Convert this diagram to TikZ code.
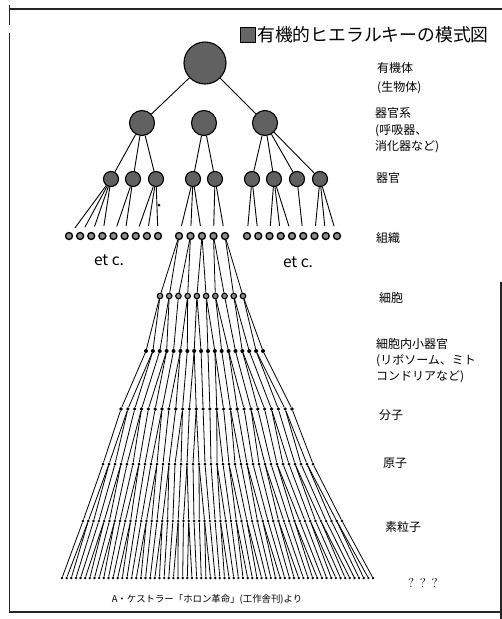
\documentclass[tikz,border=0pt]{standalone}
\usepackage{fontspec}
\newfontfamily\jp{Noto Sans CJK JP}
\newcommand\dotrow[6]{% name, n, xa, xb, y, style
  \pgfmathtruncatemacro\drm{#2-1}%
  \pgfmathsetmacro\drs{(#4-#3)/(#2-1)}%
  \foreach \i in {0,...,\drm}{%
    \pgfmathsetmacro\drx{#3+\drs*\i}%
    \node[#6] (#1\i) at (\drx,#5) {};
  }%
}
\newcommand\fanband[4]{% upper name, n upper, lower name, n lower
  \pgfmathtruncatemacro\fbm{#4-1}%
  \foreach \j in {0,...,\fbm}{%
    \pgfmathtruncatemacro\fbp{floor((\j+0.5)*#2/#4)}%
    \draw[fan] (#1\fbp) -- (#3\j);
  }%
}
\begin{document}
\begin{tikzpicture}[x=1pt,y=-1pt,
  ball/.style={circle,draw=black,line width=1.1pt,fill=black!62,inner sep=0pt},
  tis/.style={circle,draw=black,line width=1.3pt,fill=black!45,inner sep=0pt,minimum size=7pt},
  cel/.style={circle,draw=black,line width=1.1pt,fill=black!45,inner sep=0pt,minimum size=5.5pt},
  sdot/.style={circle,fill=black,inner sep=0pt,minimum size=#1},
  link/.style={line width=0.9pt},
  fan/.style={line width=0.8pt},
  border/.style={line width=1.4pt,black!85},
  lbl/.style={font=\jp\fontsize{12}{14}\selectfont,anchor=west,inner sep=0pt,text height=10.5pt,text depth=1.5pt},
  etc/.style={font=\jp\fontsize{15.5}{17}\selectfont,inner sep=0pt},
  qq/.style={font=\fontsize{13}{15}\selectfont,inner sep=0pt}
]
\useasboundingbox (0,0) rectangle (502,619);

% frame
\coordinate (f1) at (9.5,5);
\coordinate (f2) at (9.5,25);
\coordinate (f3) at (9.5,33);
\coordinate (f4) at (9.5,612);
\coordinate (f5) at (502,612);
\coordinate (f6) at (9.5,9);
\coordinate (f7) at (502,9);
\coordinate (f8) at (501,282);
\coordinate (f9) at (501,619);
\draw[border] (f1) -- (f2);
\draw[border] (f3) -- (f4) -- (f5);
\draw[border] (f6) -- (f7);
\draw[border] (f8) -- (f9);

% title
\node[draw=black,fill=black!60,minimum size=15pt,inner sep=0pt] (sq) at (247.5,34.5) {};
\node[font=\jp\fontsize{17.8}{20}\selectfont,anchor=west,inner sep=0pt,text height=15.6pt,text depth=2.2pt] (title) at (257,35) {有機的ヒエラルキーの模式図};

% upper tree
\node[ball,minimum size=42pt] (root) at (205,63) {};
\node[ball,minimum size=25pt] (s1) at (142,123) {};
\node[ball,minimum size=25pt] (s2) at (204,123) {};
\node[ball,minimum size=25pt] (s3) at (265,123) {};
\draw[link] (root) -- (s1);
\draw[link] (root) -- (s3);

\foreach \n/\x in {1/111,2/133,3/156,4/193,5/215,6/252,7/274,8/297,9/320}
  \node[ball,minimum size=15pt] (g\n) at (\x,179) {};
\foreach \p/\c in {s1/g1,s1/g2,s1/g3,s2/g4,s2/g5,s3/g6,s3/g7,s3/g8,s3/g9}
  \draw[link] (\p) -- (\c);

% tissues
\dotrow{l}{9}{69}{158}{236}{tis}
\dotrow{m}{5}{179}{225}{236}{tis}
\dotrow{r}{9}{247}{337}{236}{tis}
\foreach \p/\c in {g1/l0,g1/l1,g1/l2,g1/l3,g2/l4,g2/l5,g3/l6,g3/l7,g3/l8,
                   g4/m0,g4/m1,g4/m2,g5/m3,g5/m4,
                   g6/r0,g6/r1,g7/r2,g7/r3,g7/r4,g8/r5,g9/r6,g9/r7,g9/r8}
  \draw[link,shorten >=6pt] (\p) -- (\c);
\node[sdot=3pt] (stray) at (159,205) {};

\node[etc] (etc1) at (109,260) {et c.};
\node[etc] (etc2) at (298,262) {et c.};

% lower fan
\dotrow{cel}{10}{160}{243}{296}{cel}
\dotrow{org}{18}{146}{263}{351}{sdot=4pt}
\dotrow{mol}{26}{121}{292}{409}{sdot=3.6pt}
\dotrow{atm}{36}{103}{313}{464}{sdot=3pt}
\dotrow{par}{50}{83}{342}{521}{sdot=2.7pt}
\dotrow{bot}{68}{62}{373}{578}{sdot=2.7pt}
\fanband{m}{5}{cel}{10}
\fanband{cel}{10}{org}{18}
\fanband{org}{18}{mol}{26}
\fanband{mol}{26}{atm}{36}
\fanband{atm}{36}{par}{50}
\fanband{par}{50}{bot}{68}

% level labels
\node[lbl] (t1a) at (377,68) {有機体};
\node[lbl] (t1b) at (377,87) {(生物体)};
\node[lbl] (t2a) at (375,113) {器官系};
\node[lbl] (t2b) at (375,130) {(呼吸器、};
\node[lbl] (t2c) at (375,146) {消化器など)};
\node[lbl] (t3) at (376,178) {器官};
\node[lbl] (t4) at (376,238) {組織};
\node[lbl] (t5) at (379,298) {細胞};
\node[lbl] (t6a) at (376,344) {細胞内小器官};
\node[lbl] (t6b) at (376,360) {(リボソーム、ミト};
\node[lbl] (t6c) at (376,376) {コンドリアなど)};
\node[lbl] (t7) at (379,415) {分子};
\node[lbl] (t8) at (383,463) {原子};
\node[lbl] (t9) at (385,527) {素粒子};
\node[qq,anchor=west] (t10) at (408,583) {? ? ?};

% caption
\node[font=\jp\fontsize{9.4}{11}\selectfont,inner sep=0pt] (cap) at (207,599) {A・ケストラー「ホロン革命」(工作舎刊)より};
\end{tikzpicture}
\end{document}
